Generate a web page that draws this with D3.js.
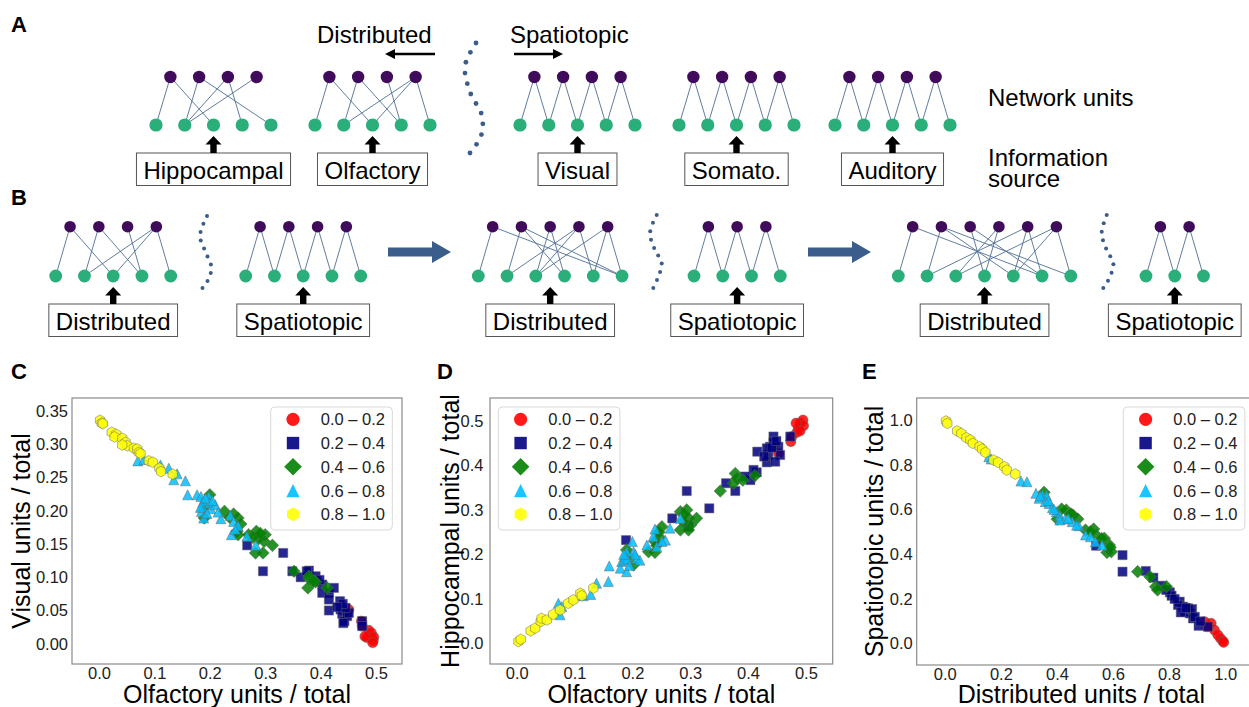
<!DOCTYPE html>
<html>
<head>
<script src="https://d3js.org/d3.v7.min.js"></script>
<style>
  body { margin: 0; background: #fff; }
  svg { font-family: "Liberation Sans", Arial, Helvetica, sans-serif; }
  .node-top { fill: #3f0b5a; }
  .node-bot { fill: #2aae7a; }
  .link { stroke: #4f6e96; stroke-width: 0.9; }
  .srcbox { fill: #fff; stroke: #555; stroke-width: 1; }
  .frame { fill: none; stroke: #8a8a8a; stroke-width: 1.2; }
  .legend-box { fill: #fff; stroke: #d9d9d9; stroke-width: 1; }
  .pt { stroke: #666; stroke-width: 0.5; fill-opacity: 0.85; }
</style>
</head>
<body>
<svg id="fig" width="1249" height="707"></svg>
<script>
// ---------- scatter data, one [x, y] list per colour bin ----------
var binLabels = ["0.0 \u2013 0.2", "0.2 \u2013 0.4", "0.4 \u2013 0.6", "0.6 \u2013 0.8", "0.8 \u2013 1.0"];
var binColors = ["#ff0000", "#000080", "#008000", "#00bfff", "#ffff00"];
var binShapes = ["circle", "square", "diamond", "triangle", "hexagon"];

// C: olfactory vs visual
var cRed = [[0.451,0.0515],[0.4735,0.034],[0.475,0.0265],[0.487,0.020],[0.484,0.009],[0.4915,0.0165],[0.495,0.005],[0.496,0.010],[0.494,0.0015],[0.480,0.011]];
var cNavy = [[0.2675,0.148],[0.3325,0.1365],[0.296,0.109],[0.349,0.109],[0.364,0.100],[0.379,0.110],[0.391,0.1015],[0.403,0.089],[0.403,0.0765],[0.415,0.0765],[0.415,0.0665],[0.415,0.050],[0.435,0.064],[0.436,0.0515],[0.439,0.045],[0.443,0.034],[0.448,0.0415],[0.451,0.0465],[0.475,0.034],[0.475,0.0265],[0.445,0.054],[0.424,0.084],[0.375,0.109],[0.393,0.094],[0.441,0.031],[0.440,0.060],[0.430,0.055],[0.398,0.096]];
var cGreen = [[0.200,0.224],[0.190,0.189],[0.2265,0.199],[0.243,0.195],[0.251,0.189],[0.249,0.169],[0.251,0.164],[0.270,0.164],[0.284,0.169],[0.300,0.164],[0.298,0.154],[0.313,0.148],[0.2825,0.1365],[0.296,0.1365],[0.352,0.109],[0.379,0.098],[0.377,0.084],[0.391,0.093],[0.412,0.084],[0.379,0.1015],[0.190,0.205],[0.256,0.180],[0.288,0.158],[0.387,0.094],[0.278,0.160],[0.291,0.166],[0.236,0.190]];
var cSky = [[0.070,0.275],[0.081,0.277],[0.111,0.269],[0.126,0.264],[0.141,0.2555],[0.135,0.2465],[0.156,0.245],[0.160,0.224],[0.177,0.224],[0.184,0.2215],[0.188,0.214],[0.186,0.2065],[0.185,0.199],[0.189,0.189],[0.198,0.2215],[0.200,0.2115],[0.202,0.203],[0.210,0.209],[0.220,0.188],[0.237,0.193],[0.243,0.184],[0.239,0.164],[0.267,0.1615],[0.283,0.148],[0.251,0.1775],[0.192,0.219],[0.246,0.172],[0.183,0.205],[0.195,0.196],[0.205,0.215],[0.215,0.198]];
var cYellow = [[0.002,0.336],[0.005,0.332],[0.007,0.331],[0.023,0.318],[0.031,0.315],[0.028,0.311],[0.042,0.309],[0.048,0.303],[0.051,0.298],[0.042,0.299],[0.063,0.294],[0.069,0.293],[0.072,0.288],[0.075,0.286],[0.090,0.275],[0.097,0.273],[0.109,0.264],[0.112,0.259],[0.133,0.255]];

// D: olfactory vs hippocampal
var dRed = [[0.4525,0.427],[0.474,0.4535],[0.476,0.465],[0.4845,0.4745],[0.487,0.4835],[0.490,0.495],[0.495,0.502],[0.496,0.4895],[0.483,0.495],[0.490,0.4775]];
var dNavy = [[0.189,0.232],[0.269,0.281],[0.294,0.3425],[0.333,0.3035],[0.362,0.360],[0.378,0.3425],[0.404,0.367],[0.415,0.3845],[0.416,0.431],[0.4325,0.407],[0.435,0.4235],[0.438,0.442],[0.444,0.465],[0.444,0.452],[0.4525,0.442],[0.4555,0.4235],[0.473,0.465],[0.447,0.4085],[0.4095,0.390],[0.4325,0.4385],[0.297,0.262],[0.441,0.440],[0.449,0.455],[0.428,0.420],[0.395,0.375]];
var dGreen = [[0.190,0.210],[0.202,0.176],[0.228,0.206],[0.239,0.2045],[0.239,0.229],[0.247,0.238],[0.251,0.262],[0.283,0.296],[0.294,0.300],[0.297,0.281],[0.283,0.255],[0.301,0.266],[0.311,0.281],[0.297,0.255],[0.352,0.3425],[0.378,0.382],[0.375,0.360],[0.381,0.371],[0.391,0.367],[0.412,0.377],[0.288,0.274],[0.194,0.195],[0.242,0.220],[0.246,0.250],[0.290,0.290]];
var dSky = [[0.072,0.090],[0.078,0.0825],[0.075,0.064],[0.115,0.107],[0.128,0.110],[0.138,0.135],[0.1585,0.139],[0.160,0.174],[0.179,0.169],[0.1815,0.184],[0.187,0.195],[0.190,0.206],[0.200,0.229],[0.186,0.187],[0.202,0.206],[0.2075,0.191],[0.213,0.187],[0.225,0.221],[0.236,0.240],[0.242,0.217],[0.257,0.232],[0.265,0.259],[0.283,0.281],[0.239,0.257],[0.251,0.229],[0.190,0.161],[0.191,0.190],[0.195,0.175],[0.205,0.200],[0.185,0.200]];
var dYellow = [[0.003,0.004],[0.007,0.009],[0.024,0.028],[0.032,0.034],[0.0415,0.049],[0.043,0.056],[0.052,0.0525],[0.063,0.065],[0.075,0.075],[0.089,0.090],[0.098,0.0975],[0.110,0.1125],[0.1125,0.107],[0.1325,0.124]];

// E: distributed vs spatiotopic
var eRed = [[0.927,0.098],[0.936,0.076],[0.962,0.061],[0.974,0.039],[0.9835,0.024],[0.992,0.012],[0.995,0.006],[0.950,0.091]];
var eNavy = [[0.5395,0.438],[0.634,0.396],[0.634,0.322],[0.717,0.325],[0.744,0.295],[0.773,0.259],[0.803,0.2295],[0.838,0.188],[0.850,0.1655],[0.858,0.143],[0.874,0.1355],[0.8855,0.113],[0.9055,0.080],[0.868,0.158],[0.832,0.173],[0.9385,0.076],[0.882,0.155],[0.809,0.2145],[0.842,0.140],[0.820,0.200],[0.860,0.160],[0.892,0.120],[0.912,0.100],[0.790,0.240]];
var eGreen = [[0.354,0.6765],[0.401,0.557],[0.433,0.5975],[0.457,0.575],[0.4745,0.557],[0.502,0.508],[0.531,0.5125],[0.5395,0.486],[0.569,0.471],[0.587,0.441],[0.5785,0.408],[0.594,0.411],[0.688,0.322],[0.732,0.2995],[0.752,0.255],[0.759,0.240],[0.791,0.255],[0.417,0.602],[0.450,0.580],[0.520,0.500],[0.560,0.470],[0.590,0.430]];
var eSky = [[0.157,0.836],[0.165,0.8255],[0.2715,0.727],[0.293,0.724],[0.325,0.672],[0.336,0.650],[0.348,0.665],[0.3625,0.662],[0.358,0.635],[0.372,0.627],[0.384,0.608],[0.398,0.590],[0.410,0.572],[0.4285,0.557],[0.4545,0.5455],[0.478,0.5275],[0.502,0.486],[0.5195,0.478],[0.537,0.456],[0.561,0.441],[0.410,0.553],[0.340,0.660],[0.370,0.640],[0.390,0.600],[0.440,0.560],[0.470,0.530]];
var eYellow = [[0.004,0.9955],[0.009,0.985],[0.044,0.951],[0.059,0.940],[0.077,0.921],[0.091,0.911],[0.100,0.896],[0.124,0.881],[0.133,0.870],[0.145,0.855],[0.1735,0.821],[0.190,0.811],[0.2125,0.791],[0.221,0.776],[0.2515,0.7585]];

// axis ticks
var cXTicks = [0, 0.1, 0.2, 0.3, 0.4, 0.5];
var cYTicks = [0, 0.05, 0.1, 0.15, 0.2, 0.25, 0.3, 0.35];
var dXTicks = [0, 0.1, 0.2, 0.3, 0.4, 0.5];
var dYTicks = [0, 0.1, 0.2, 0.3, 0.4, 0.5];
var eXTicks = [0, 0.2, 0.4, 0.6, 0.8, 1.0];
var eYTicks = [0, 0.2, 0.4, 0.6, 0.8, 1.0];

// ---------- network sketches (A and B) ----------
var distLinks4 = [[0,0],[0,2],[1,1],[1,3],[2,3],[3,1],[3,2],[3,4]];
var hippoLinks = [[0,0],[0,2],[1,1],[1,4],[2,1],[2,3],[3,1]];
var distLinks5 = [[0,0],[0,5],[1,1],[1,3],[1,5],[2,2],[2,3],[3,1],[3,2],[3,4],[4,2],[4,4],[4,5]];
var distLinks6 = [[0,0],[0,5],[1,1],[1,4],[1,6],[2,3],[2,5],[3,2],[3,3],[4,1],[4,4],[4,5],[5,2],[5,4],[5,6]];
function zigzag(n) { var l = []; for (var i = 0; i < n - 1; i++) { l.push([i, i]); l.push([i, i + 1]); } return l; }

var netsA = [
  { label: "Hippocampal", nb: 5, links: hippoLinks, x0: 156 },
  { label: "Olfactory", nb: 5, links: distLinks4, x0: 315 },
  { label: "Visual", nb: 5, links: zigzag(5), x0: 520 },
  { label: "Somato.", nb: 5, links: zigzag(5), x0: 679 },
  { label: "Auditory", nb: 5, links: zigzag(5), x0: 835 }
];
var netsB = [
  { label: "Distributed", nb: 5, links: distLinks4, x0: 55.7 },
  { label: "Spatiotopic", nb: 5, links: zigzag(5), x0: 245.7 },
  { label: "Distributed", nb: 6, links: distLinks5, x0: 478.3 },
  { label: "Spatiotopic", nb: 4, links: zigzag(4), x0: 694 },
  { label: "Distributed", nb: 7, links: distLinks6, x0: 898.3 },
  { label: "Spatiotopic", nb: 3, links: zigzag(3), x0: 1146 }
];

var svg = d3.select("#fig");
var step = 28.75;

function drawNet(net, yTop, yBot, boxTop, rT, rB) {
  var g = svg.append("g");
  var bx = d3.range(net.nb).map(i => net.x0 + i * step);
  var tx = d3.range(net.nb - 1).map(i => net.x0 + step / 2 + i * step);
  g.selectAll("line").data(net.links).enter().append("line")
    .attr("class", "link")
    .attr("x1", d => tx[d[0]]).attr("y1", yTop)
    .attr("x2", d => bx[d[1]]).attr("y2", yBot);
  g.selectAll(".node-top").data(tx).enter().append("circle")
    .attr("class", "node-top").attr("cx", d => d).attr("cy", yTop).attr("r", rT);
  g.selectAll(".node-bot").data(bx).enter().append("circle")
    .attr("class", "node-bot").attr("cx", d => d).attr("cy", yBot).attr("r", rB);

  var cx = (bx[0] + bx[bx.length - 1]) / 2;
  var t = g.append("text").attr("x", cx).attr("y", boxTop + 25.5)
    .attr("text-anchor", "middle").attr("font-size", 24).text(net.label);
  var tw = t.node().getComputedTextLength();
  g.insert("rect", "text").attr("class", "srcbox")
    .attr("x", cx - tw / 2 - 7).attr("y", boxTop).attr("width", tw + 14).attr("height", 32.5);

  var tip = yBot + 11;
  g.append("path").attr("fill", "#000")
    .attr("d", `M${cx},${tip}L${cx + 8},${tip + 8.5}L${cx + 3.2},${tip + 8.5}L${cx + 3.2},${boxTop}L${cx - 3.2},${boxTop}L${cx - 3.2},${tip + 8.5}L${cx - 8},${tip + 8.5}Z`);
}

function dottedCurve(pts, n, r) {
  var p = svg.append("path").attr("fill", "none")
    .attr("d", d3.line().curve(d3.curveCatmullRom)(pts));
  var L = p.node().getTotalLength();
  var dots = d3.range(n).map(i => p.node().getPointAtLength(L * i / (n - 1)));
  p.remove();
  svg.append("g").selectAll("circle").data(dots).enter().append("circle")
    .attr("cx", d => d.x).attr("cy", d => d.y).attr("r", r).attr("fill", "#3b5d8c");
}

function letter(txt, x, y) {
  svg.append("text").attr("x", x).attr("y", y).attr("font-size", 22)
    .attr("font-weight", "bold").text(txt);
}

// panel A
letter("A", 11, 32);
netsA.forEach(n => drawNet(n, 77, 125, 153, 6.2, 6.6));
svg.append("text").attr("x", 317).attr("y", 43).attr("font-size", 24).text("Distributed");
svg.append("text").attr("x", 510).attr("y", 43).attr("font-size", 24).text("Spatiotopic");
svg.append("line").attr("x1", 435).attr("x2", 393).attr("y1", 54).attr("y2", 54).attr("stroke", "#000").attr("stroke-width", 2.5);
svg.append("path").attr("d", "M385,54L395,49L395,59Z").attr("fill", "#000");
svg.append("line").attr("x1", 514).attr("x2", 555).attr("y1", 54).attr("y2", 54).attr("stroke", "#000").attr("stroke-width", 2.5);
svg.append("path").attr("d", "M563,54L553,49L553,59Z").attr("fill", "#000");
dottedCurve([[476,43],[465,66],[470,92],[482,116],[481,136],[470,153]], 12, 2.4);
svg.append("text").attr("x", 988).attr("y", 106).attr("font-size", 24).text("Network units");
svg.append("text").attr("x", 988).attr("y", 166).attr("font-size", 24).text("Information");
svg.append("text").attr("x", 988).attr("y", 187).attr("font-size", 24).text("source");

// panel B
letter("B", 11, 205);
netsB.forEach(n => drawNet(n, 226.7, 276, 304, 5.8, 6.4));
dottedCurve([[207,216],[200,236],[206,253],[211.5,268],[207,282],[202.5,288]], 10, 2);
dottedCurve([[656.7,215],[650,233],[655,250],[661.7,263],[658.3,276.7],[653.3,288]], 10, 2);
dottedCurve([[1106.7,215],[1101.7,233],[1106.7,250],[1113.3,263],[1110,276.7],[1103.3,288]], 10, 2);
[[388, 432, 451], [808, 852, 871]].forEach(a => {
  svg.append("path").attr("fill", "#3b5d8c")
    .attr("d", `M${a[0]},247.5H${a[1]}V241L${a[2]},252L${a[1]},263V256.5H${a[0]}Z`);
});

// ---------- scatter panels ----------
function markerPath(kind, r) {
  if (kind === "circle") return d3.symbol(d3.symbolCircle, Math.PI * r * r)();
  if (kind === "square") return `M${-r},${-r}H${r}V${r}H${-r}Z`;
  if (kind === "diamond") return `M0,${-r}L${r},0L0,${r}L${-r},0Z`;
  if (kind === "triangle") return `M0,${-r}L${r},${r}L${-r},${r}Z`;
  var pts = d3.range(6).map(k => { var a = (-90 + 60 * k) * Math.PI / 180; return [r * Math.cos(a), r * Math.sin(a)]; });
  return "M" + pts.map(p => p.join(",")).join("L") + "Z";
}
var ptSize = { circle: 5.1, square: 4.6, diamond: 6.3, triangle: 5, hexagon: 5.4 };
var legSize = { circle: 6.6, square: 6.2, diamond: 8.8, triangle: 6.6, hexagon: 6.9 };

var panels = [
  { id: "C", frame: [72, 398, 402, 664], xDom: [-0.0487, 0.5469], yDom: [-0.0305, 0.3696],
    xTicks: cXTicks, yTicks: cYTicks, xFmt: ".1f", yFmt: ".2f",
    xLabel: "Olfactory units / total", yLabel: "Visual units / total", yLabelX: 30, yPad: 4,
    legendX: 270.7, letterX: 11, series: [cRed, cNavy, cGreen, cSky, cYellow] },
  { id: "D", frame: [490, 398, 832.7, 664], xDom: [-0.0462, 0.5464], yDom: [-0.0466, 0.5517],
    xTicks: dXTicks, yTicks: dYTicks, xFmt: ".1f", yFmt: ".1f",
    xLabel: "Olfactory units / total", yLabel: "Hippocampal units / total", yLabelX: 459, yPad: 6.5,
    legendX: 498.3, letterX: 437, series: [dRed, dNavy, dGreen, dSky, dYellow] },
  { id: "E", frame: [916.7, 398, 1253, 665], xDom: [-0.1003, 1.0995], yDom: [-0.0952, 1.0983],
    xTicks: eXTicks, yTicks: eYTicks, xFmt: ".1f", yFmt: ".1f",
    xLabel: "Distributed units / total", yLabel: "Spatiotopic units / total", yLabelX: 883, yPad: 4,
    legendX: 1123.3, letterX: 862, series: [eRed, eNavy, eGreen, eSky, eYellow] }
];

panels.forEach(function(p) {
  var f = p.frame;
  var x = d3.scaleLinear().domain(p.xDom).range([f[0], f[2]]);
  var y = d3.scaleLinear().domain(p.yDom).range([f[3], f[1]]);
  letter(p.id, p.letterX, 379);

  svg.append("rect").attr("class", "frame")
    .attr("x", f[0]).attr("y", f[1]).attr("width", f[2] - f[0]).attr("height", f[3] - f[1]);

  var xa = svg.append("g").attr("transform", `translate(0,${f[3]})`)
    .call(d3.axisBottom(x).tickValues(p.xTicks).tickFormat(d3.format(p.xFmt)).tickSize(0).tickPadding(3));
  var ya = svg.append("g").attr("transform", `translate(${f[0]},0)`)
    .call(d3.axisLeft(y).tickValues(p.yTicks).tickFormat(d3.format(p.yFmt)).tickSize(0).tickPadding(p.yPad));
  [xa, ya].forEach(a => {
    a.attr("font-family", null).attr("font-size", null);
    a.select(".domain").remove();
    a.selectAll("text").attr("font-size", 16.5).attr("fill", "#222");
  });

  svg.append("text").attr("x", (f[0] + Math.min(f[2], 1246)) / 2).attr("y", 703)
    .attr("text-anchor", "middle").attr("font-size", 25).text(p.xLabel);
  svg.append("text").attr("transform", `translate(${p.yLabelX},${(f[1] + f[3]) / 2}) rotate(-90)`)
    .attr("text-anchor", "middle").attr("font-size", 25).text(p.yLabel);

  p.series.forEach(function(s, i) {
    var shape = binShapes[i];
    svg.append("g").selectAll("path").data(s).enter().append("path")
      .attr("class", "pt")
      .attr("d", markerPath(shape, ptSize[shape]))
      .attr("fill", binColors[i])
      .attr("transform", d => `translate(${x(d[0])},${y(d[1])})`);
  });

  // legend
  var lg = svg.append("g").attr("transform", `translate(${p.legendX},407)`);
  lg.append("rect").attr("class", "legend-box").attr("rx", 4)
    .attr("width", 121.6).attr("height", 123);
  binLabels.forEach(function(lab, i) {
    var cy = 12.3 + i * 23.75;
    lg.append("path").attr("d", markerPath(binShapes[i], legSize[binShapes[i]]))
      .attr("fill", binColors[i]).attr("fill-opacity", 0.9)
      .attr("transform", `translate(22.3,${cy})`);
    lg.append("text").attr("x", 50).attr("y", cy + 6).attr("font-size", 16.5).attr("fill", "#222").text(lab);
  });
});
</script>
</body>
</html>
